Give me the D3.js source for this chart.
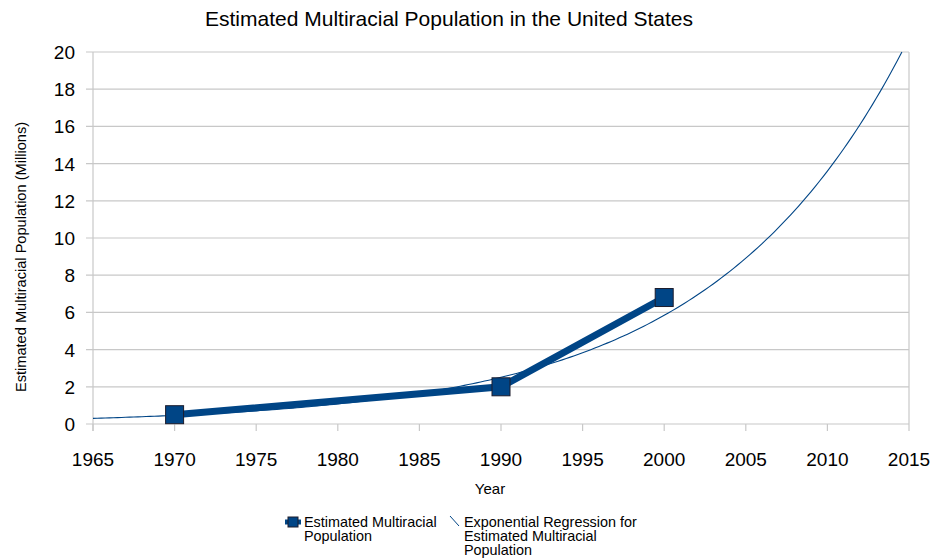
<!DOCTYPE html>
<html>
<head>
<meta charset="utf-8">
<script src="https://cdn.jsdelivr.net/npm/d3@7"></script>
<style>
  body { margin: 0; background: #fff; }
  text { font-family: "Liberation Sans", Arial, sans-serif; fill: #000; }
</style>
</head>
<body>
<svg id="viz"></svg>
<script>
var width = 935;
var height = 559;

// data
var years = [1970, 1990, 2000];
var population = [0.5, 2.0, 6.8];
var yTicks = [0, 2, 4, 6, 8, 10, 12, 14, 16, 18, 20];
var xTicks = [1965, 1970, 1975, 1980, 1985, 1990, 1995, 2000, 2005, 2010, 2015];

var blue = "#004586";

var svg = d3.select("#viz")
    .attr("width", width)
    .attr("height", height);

var plotLeft = 93, plotRight = 909, plotTop = 52, plotBottom = 424;

var x = d3.scaleLinear().domain([1965, 2015]).range([plotLeft, plotRight]);
var y = d3.scaleLinear().domain([0, 20]).range([plotBottom, plotTop]);

// gridlines
svg.append("g").selectAll("line")
    .data(yTicks)
    .enter().append("line")
    .attr("x1", plotLeft - 7).attr("x2", plotRight)
    .attr("y1", function(d) { return y(d); })
    .attr("y2", function(d) { return y(d); })
    .attr("stroke", "#c8c8c8")
    .attr("stroke-width", 1.2);

// x tick marks
svg.append("g").selectAll("line")
    .data(xTicks)
    .enter().append("line")
    .attr("x1", function(d) { return x(d); })
    .attr("x2", function(d) { return x(d); })
    .attr("y1", plotBottom).attr("y2", plotBottom + 7)
    .attr("stroke", "#c8c8c8")
    .attr("stroke-width", 1.2);

// frame
svg.append("line").attr("x1", plotLeft).attr("x2", plotLeft).attr("y1", plotTop).attr("y2", plotBottom + 7)
    .attr("stroke", "#c8c8c8").attr("stroke-width", 1.2);
svg.append("line").attr("x1", plotRight).attr("x2", plotRight).attr("y1", plotTop).attr("y2", plotBottom)
    .attr("stroke", "#c8c8c8").attr("stroke-width", 1.2);

// tick labels
svg.append("g").selectAll("text")
    .data(yTicks)
    .enter().append("text")
    .attr("x", 75)
    .attr("y", function(d) { return y(d) + 7; })
    .attr("text-anchor", "end")
    .style("font-size", "19px")
    .text(function(d) { return d; });

svg.append("g").selectAll("text")
    .data(xTicks)
    .enter().append("text")
    .attr("x", function(d) { return x(d); })
    .attr("y", 466)
    .attr("text-anchor", "middle")
    .style("font-size", "19px")
    .text(function(d) { return d; });

// titles
svg.append("text")
    .attr("x", 449).attr("y", 26)
    .attr("text-anchor", "middle")
    .style("font-size", "21px")
    .text("Estimated Multiracial Population in the United States");

svg.append("text")
    .attr("x", 490).attr("y", 494)
    .attr("text-anchor", "middle")
    .style("font-size", "15px")
    .text("Year");

svg.append("text")
    .attr("transform", "translate(26,257) rotate(-90)")
    .attr("text-anchor", "middle")
    .style("font-size", "14.6px")
    .text("Estimated Multiracial Population (Millions)");

// exponential regression on the data (least squares on log values)
var mx = d3.mean(years);
var ly = population.map(function(v) { return Math.log(v); });
var my = d3.mean(ly);
var sxy = d3.sum(years, function(d, i) { return (d - mx) * (ly[i] - my); });
var sxx = d3.sum(years, function(d) { return (d - mx) * (d - mx); });
var b = sxy / sxx;
function fit(t) { return Math.exp(my + b * (t - mx)); }

var yEnd = mx + (Math.log(20) - my) / b; // where the curve leaves the top
var curveYears = d3.range(1965, yEnd, 0.25).concat([yEnd]);

svg.append("path")
    .datum(curveYears)
    .attr("fill", "none")
    .attr("stroke", blue)
    .attr("stroke-width", 1.1)
    .attr("d", d3.line()
        .x(function(d) { return x(d); })
        .y(function(d) { return y(fit(d)); }));

// data line
var pts = years.map(function(d, i) { return [d, population[i]]; });
svg.append("path")
    .datum(pts)
    .attr("fill", "none")
    .attr("stroke", blue)
    .attr("stroke-width", 7)
    .attr("d", d3.line()
        .x(function(d) { return x(d[0]); })
        .y(function(d) { return y(d[1]); }));

svg.append("g").selectAll("rect")
    .data(pts)
    .enter().append("rect")
    .attr("x", function(d) { return x(d[0]) - 9; })
    .attr("y", function(d) { return y(d[1]) - 9; })
    .attr("width", 18).attr("height", 18)
    .attr("fill", blue)
    .attr("stroke", "#1c1c2c")
    .attr("stroke-width", 1);

// legend
var lg = svg.append("g");
lg.append("line").attr("x1", 285).attr("x2", 301).attr("y1", 522).attr("y2", 522)
    .attr("stroke", blue).attr("stroke-width", 5);
lg.append("rect").attr("x", 288).attr("y", 517).attr("width", 10).attr("height", 10)
    .attr("fill", blue).attr("stroke", "#1c1c2c").attr("stroke-width", 1);
lg.append("text").attr("x", 304).attr("y", 527).style("font-size", "14.4px")
    .text("Estimated Multiracial");
lg.append("text").attr("x", 304).attr("y", 541).style("font-size", "14.4px")
    .text("Population");

lg.append("line").attr("x1", 450).attr("x2", 459).attr("y1", 516).attr("y2", 526)
    .attr("stroke", blue).attr("stroke-width", 1);
lg.append("text").attr("x", 464).attr("y", 527).style("font-size", "14.4px")
    .text("Exponential Regression for");
lg.append("text").attr("x", 464).attr("y", 541).style("font-size", "14.4px")
    .text("Estimated Multiracial");
lg.append("text").attr("x", 464).attr("y", 555).style("font-size", "14.4px")
    .text("Population");
</script>
</body>
</html>
